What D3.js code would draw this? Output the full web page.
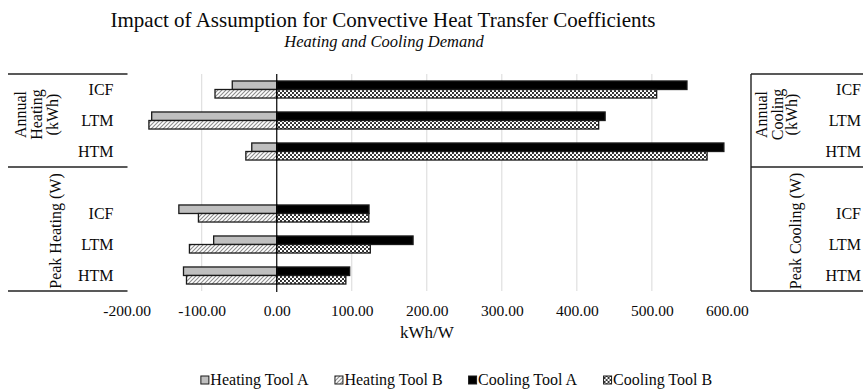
<!DOCTYPE html>
<html>
<head>
<meta charset="utf-8">
<script src="https://cdn.jsdelivr.net/npm/d3@7"></script>
<style>
  body { margin: 0; background: #fff; }
  svg { display: block; font-family: "Liberation Serif", "Times New Roman", serif; }
</style>
</head>
<body>
<svg id="chart" width="863" height="391"></svg>
<script>
// Row keys (a blank row separates the annual and peak groups)
const rowKeys = ["annual-ICF", "annual-LTM", "annual-HTM", "blank", "peak-ICF", "peak-LTM", "peak-HTM"];
const rowLabels = ["ICF", "LTM", "HTM", "", "ICF", "LTM", "HTM"];
const seriesNames = ["Heating Tool A", "Heating Tool B", "Cooling Tool A", "Cooling Tool B"];

// Heating results are plotted as negative values, cooling as positive (kWh or W)
const heatingToolA = [-59.3, -166.7, -33.3, null, -130.5, -84.1, -124.3];
const heatingToolB = [-82.3, -170.4, -41.2, null, -104.4, -116.4, -120.3];
const coolingToolA = [546.8, 437.7, 596.0, null, 123.0, 181.7, 97.2];
const coolingToolB = [506.4, 429.1, 573.6, null, 122.7, 124.7, 92.1];

const xTicks = [-200, -100, 0, 100, 200, 300, 400, 500, 600];

const leftGroups = [
  { lines: ["Annual", "Heating", "(kWh)"], first: 0, last: 2 },
  { lines: ["Peak Heating (W)"], first: 3, last: 6 }
];
const rightGroups = [
  { lines: ["Annual", "Cooling", "(kWh)"], first: 0, last: 2 },
  { lines: ["Peak Cooling (W)"], first: 3, last: 6 }
];

const svg = d3.select("#chart");
const W = 863;
const ink = "#0a0a0a";

// ---- scales ----
const plotTop = 74, plotBottom = 291;
const x = d3.scaleLinear().domain([-200, 600]).range([126.7, 726.9]);
const y = d3.scaleBand().domain(rowKeys).range([plotTop, plotBottom]).padding(0);
const bw = y.bandwidth();
const tool = d3.scaleBand().domain(["A", "B"]).range([bw * 0.225, bw * 0.775]).padding(0);

// ---- fill patterns ----
const defs = svg.append("defs");
const hatch = defs.append("pattern").attr("id", "hatch")
  .attr("patternUnits", "userSpaceOnUse").attr("width", 4).attr("height", 4);
hatch.append("rect").attr("width", 4).attr("height", 4).attr("fill", "#fff");
hatch.append("path").attr("d", "M0,4 L4,0 M-1,1 L1,-1 M3,5 L5,3")
  .attr("stroke", "#8c8c8c").attr("stroke-width", 1.1);

const dots = defs.append("pattern").attr("id", "dots")
  .attr("patternUnits", "userSpaceOnUse").attr("width", 4).attr("height", 4);
dots.append("rect").attr("width", 4).attr("height", 4).attr("fill", "#fff");
dots.append("circle").attr("cx", 1).attr("cy", 1).attr("r", 1.05).attr("fill", "#1a1a1a");
dots.append("circle").attr("cx", 3).attr("cy", 3).attr("r", 1.05).attr("fill", "#1a1a1a");

const fills = {
  "Heating Tool A": "#bfbfbf",
  "Heating Tool B": "url(#hatch)",
  "Cooling Tool A": "#000",
  "Cooling Tool B": "url(#dots)"
};

// ---- title ----
svg.append("text").attr("x", 383).attr("y", 27).attr("text-anchor", "middle")
  .attr("font-size", 21).attr("fill", ink)
  .text("Impact of Assumption for Convective Heat Transfer Coefficients");
svg.append("text").attr("x", 384).attr("y", 47).attr("text-anchor", "middle")
  .attr("font-size", 16.5).attr("font-style", "italic").attr("fill", ink)
  .text("Heating and Cooling Demand");

// ---- gridlines ----
svg.append("g").selectAll("line")
  .data(xTicks.filter(t => t > -200 && t < 600 && t !== 0))
  .join("line")
  .attr("x1", d => x(d)).attr("x2", d => x(d))
  .attr("y1", plotTop).attr("y2", plotBottom)
  .attr("stroke", "#d9d9d9").attr("stroke-width", 1);

// ---- bars ----
const series = [
  { name: "Heating Tool A", tool: "A", values: heatingToolA },
  { name: "Heating Tool B", tool: "B", values: heatingToolB },
  { name: "Cooling Tool A", tool: "A", values: coolingToolA },
  { name: "Cooling Tool B", tool: "B", values: coolingToolB }
];
const barData = [];
series.forEach(s => s.values.forEach((v, i) => {
  if (v !== null) barData.push({ name: s.name, tool: s.tool, key: rowKeys[i], value: v });
}));
svg.append("g").selectAll("rect")
  .data(barData)
  .join("rect")
  .attr("x", d => x(Math.min(0, d.value)))
  .attr("width", d => Math.abs(x(d.value) - x(0)))
  .attr("y", d => y(d.key) + tool(d.tool))
  .attr("height", tool.bandwidth())
  .attr("fill", d => fills[d.name])
  .attr("stroke", "#1a1a1a").attr("stroke-width", 1.3);

// ---- zero axis ----
svg.append("line")
  .attr("x1", x(0)).attr("x2", x(0))
  .attr("y1", plotTop).attr("y2", plotBottom + 1)
  .attr("stroke", "#000").attr("stroke-width", 1.2);

// ---- value axis ----
const xAxis = svg.append("g").attr("transform", `translate(0,${plotBottom})`)
  .call(d3.axisBottom(x).tickValues(xTicks).tickFormat(d => d.toFixed(2))
    .tickSize(0).tickPadding(14));
xAxis.select(".domain").remove();
xAxis.selectAll("text").attr("font-size", 15.5).attr("fill", ink)
  .attr("font-family", "Liberation Serif, Times New Roman, serif");

svg.append("text").attr("x", x(200)).attr("y", 338).attr("text-anchor", "middle")
  .attr("font-size", 17).attr("fill", ink).text("kWh/W");

// ---- category tables (left: heating, right: cooling) ----
function drawTable(x0, x1, labelRight, groups, groupX, withLeftBorder) {
  const g = svg.append("g");
  const edges = [plotTop, y(rowKeys[3]), plotBottom];
  g.selectAll("line.h").data(edges).join("line")
    .attr("x1", x0).attr("x2", x1).attr("y1", d => d).attr("y2", d => d)
    .attr("stroke", "#222").attr("stroke-width", 1.6);
  if (withLeftBorder) {
    g.append("line").attr("x1", x0).attr("x2", x0)
      .attr("y1", plotTop).attr("y2", plotBottom)
      .attr("stroke", "#222").attr("stroke-width", 1.4);
  }
  g.selectAll("text.cat").data(rowKeys.map((k, i) => ({ k, label: rowLabels[i] })).filter(d => d.label))
    .join("text")
    .attr("x", labelRight).attr("y", d => y(d.k) + bw / 2)
    .attr("dy", "0.35em").attr("text-anchor", "end")
    .attr("font-size", 16).attr("fill", ink)
    .text(d => d.label);
  groups.forEach((grp, gi) => {
    const top = gi === 0 ? plotTop : y(rowKeys[grp.first]);
    const bottom = y(rowKeys[grp.last]) + bw;
    const cy = gi === 0 ? (top + bottom) / 2 - 6 : (top + bottom) / 2 + 2;
    grp.lines.forEach((line, li) => {
      g.append("text")
        .attr("transform", `translate(${groupX[gi][li]},${cy}) rotate(-90)`)
        .attr("text-anchor", "middle").attr("dy", "0.35em")
        .attr("font-size", 16).attr("fill", ink)
        .text(line);
    });
  });
}
drawTable(8, 127.5, 113.5, leftGroups, [[20, 36.5, 52.5], [55]], false);
drawTable(751, W, 861, rightGroups, [[761, 777, 791.5], [795]], true);

// ---- legend ----
const legend = svg.append("g");
const items = legend.selectAll("g").data(seriesNames).join("g");
items.append("rect").attr("width", 8).attr("height", 8).attr("y", -9)
  .attr("fill", d => fills[d]).attr("stroke", "#1a1a1a").attr("stroke-width", 1);
items.append("text").attr("x", 9.5).attr("y", 0)
  .attr("font-size", 16).attr("fill", ink).text(d => d);
let cursor = 0;
const gap = 26;
items.each(function () {
  const w = this.getBBox().width;
  d3.select(this).attr("transform", `translate(${cursor},385)`);
  cursor += w + gap;
});
const totalW = cursor - gap;
legend.attr("transform", `translate(${456.5 - totalW / 2},0)`);
</script>
</body>
</html>
